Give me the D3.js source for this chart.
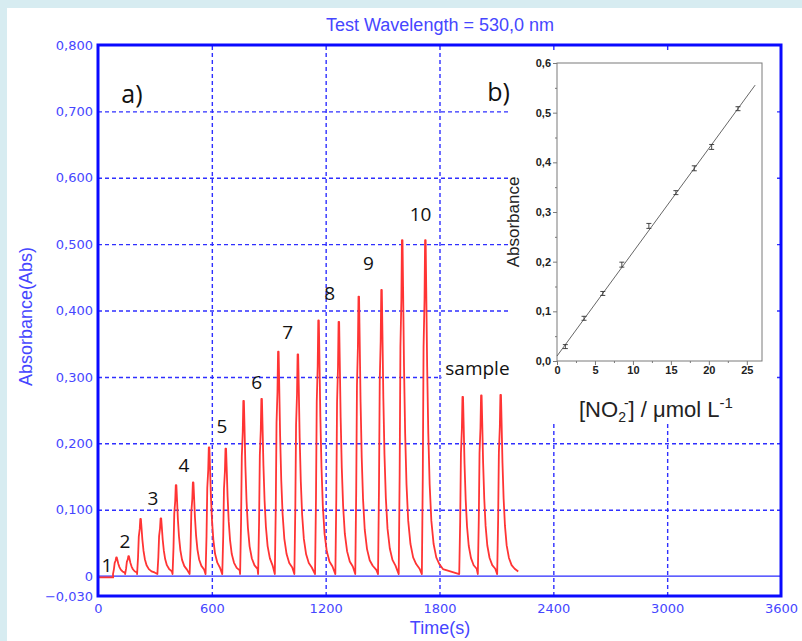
<!DOCTYPE html>
<html>
<head>
<meta charset="utf-8">
<script src="https://cdn.jsdelivr.net/npm/d3@7"></script>
<style>
	body { margin: 0; background: #ffffff; }
	svg { display: block; }
</style>
</head>
<body>
<div id="wrapper"></div>
<script>
// main trace: peak times (s) and heights (Abs)
const peakTimes = [98, 162, 225, 332, 412, 502, 586, 674, 768, 863, 951, 1054, 1163, 1270, 1375, 1495, 1604, 1726, 1923, 2021, 2123];
const peakHeights = [0.025, 0.027, 0.083, 0.084, 0.134, 0.138, 0.191, 0.189, 0.261, 0.264, 0.335, 0.331, 0.382, 0.380, 0.418, 0.428, 0.503, 0.503, 0.267, 0.269, 0.270];
// shape of one peak: seconds from apex, fraction of height
const profileDt = [-19, -14, -10, -5, -2, 1, 4, 9, 15, 22, 31, 43, 57, 73, 92];
const profileFrac = [0, 0.3, 0.68, 0.82, 1, 1, 0.86, 0.62, 0.42, 0.27, 0.16, 0.09, 0.05, 0.03, 0.015];
const startTimes = [0, 80];
const startValues = [-0.002, -0.002];
const peakBase = 0.003;
const traceEnd = 2216;

const xTicks = [0, 600, 1200, 1800, 2400, 3000, 3600];
const yTicks = [-0.03, 0, 0.1, 0.2, 0.3, 0.4, 0.5, 0.6, 0.7, 0.8];
const xGrid = [600, 1200, 1800, 2400, 3000];
const yGrid = [0.1, 0.2, 0.3, 0.4, 0.5, 0.6, 0.7];

const labelTexts = ["1", "2", "3", "4", "5", "6", "7", "8", "9", "10", "sample"];
const labelTimes = [47, 142, 289, 453, 653, 837, 1000, 1221, 1426, 1700, 2000];
const labelValues = [0.017, 0.053, 0.117, 0.168, 0.226, 0.292, 0.368, 0.426, 0.472, 0.546, 0.313];

// inset calibration
const concentrations = [1.1, 3.56, 6.03, 8.54, 12.1, 15.66, 18.08, 20.37, 23.84];
const absorbances = [0.029, 0.086, 0.136, 0.194, 0.272, 0.339, 0.388, 0.431, 0.508];
const absErrors = [0.004, 0.004, 0.004, 0.005, 0.005, 0.004, 0.005, 0.005, 0.004];
const fitIntercept = 0.01;
const fitSlope = 0.0209;
const fitRange = [0, 26.1];
const insetXTicks = [0, 5, 10, 15, 20, 25];
const insetXMinor = [2.5, 7.5, 12.5, 17.5, 22.5];
const insetYTicks = [0, 0.1, 0.2, 0.3, 0.4, 0.5, 0.6];
const insetYMinor = [0.05, 0.15, 0.25, 0.35, 0.45, 0.55];

const width = 802, height = 641;
const blue = "#0a0aff";
const textBlue = "#4646ff";
const gridBlue = "#2f2fff";
const arial = "'Liberation Sans', Arial, sans-serif";

const svg = d3.select("#wrapper").append("svg")
	.attr("width", width).attr("height", height);

// page background with light frame strip
svg.append("rect").attr("width", width).attr("height", height).attr("fill", "#d7ecf1");
svg.append("rect").attr("x", 7).attr("y", 8).attr("width", width - 7).attr("height", height - 8).attr("fill", "#ffffff");

const x = d3.scaleLinear().domain([0, 3600]).range([98, 781]);
const y = d3.scaleLinear().domain([-0.03, 0.8]).range([596, 45]);

// grid
const gridV = svg.append("g").attr("transform", `translate(0, ${y(-0.03)})`)
	.call(d3.axisBottom(x).tickValues(xGrid).tickSize(-(y(-0.03) - y(0.8))).tickFormat(""));
const gridH = svg.append("g").attr("transform", `translate(${x(0)}, 0)`)
	.call(d3.axisLeft(y).tickValues(yGrid).tickSize(-(x(3600) - x(0))).tickFormat(""));
for (const g of [gridV, gridH]) {
	g.select(".domain").remove();
	g.selectAll(".tick line")
		.attr("stroke", gridBlue)
		.attr("stroke-width", 1.4)
		.attr("stroke-dasharray", "4,3");
}

// zero line
svg.append("line")
	.attr("x1", x(0)).attr("x2", x(3600))
	.attr("y1", y(0)).attr("y2", y(0))
	.attr("stroke", "#2a2aff").attr("stroke-width", 1.3);

// build the trace from the peaks and the peak shape
const trace = startTimes.map((t, i) => [t, startValues[i]]);
peakTimes.forEach((tp, i) => {
	const next = peakTimes[i + 1];
	profileDt.forEach((dt, j) => {
		const t = tp + dt;
		if (next === undefined ? t <= traceEnd : t < next + profileDt[0]) {
			trace.push([t, peakBase + peakHeights[i] * profileFrac[j]]);
		}
	});
});

const line = d3.line().x((d) => x(d[0])).y((d) => y(d[1]));
svg.append("path")
	.attr("d", line(trace))
	.attr("fill", "none")
	.attr("stroke", "#ff3434")
	.attr("stroke-width", 1.8)
	.attr("stroke-linejoin", "round");

// inset white panel covers the grid
svg.append("rect").attr("x", 508).attr("y", 50).attr("width", 269).attr("height", 373).attr("fill", "#ffffff");

// white box behind the "sample" label
const sampleIdx = labelTexts.indexOf("sample");
svg.append("rect")
	.attr("x", x(1800) + 2).attr("y", y(labelValues[sampleIdx]) - 14)
	.attr("width", 68).attr("height", 26).attr("fill", "#ffffff");

// peak labels
const labels = svg.append("g")
	.attr("font-family", "'Open Sans', sans-serif")
	.attr("font-size", 19)
	.attr("fill", "#111111");
labelTexts.forEach((txt, i) => {
	labels.append("text")
		.attr("x", x(labelTimes[i])).attr("y", y(labelValues[i]))
		.attr("text-anchor", "middle")
		.attr("dominant-baseline", "central")
		.text(txt);
});
labels.append("text").attr("x", x(179)).attr("y", y(0.728))
	.attr("text-anchor", "middle").attr("dominant-baseline", "central")
	.attr("font-size", 25).text("a)");
labels.append("text").attr("x", x(2111)).attr("y", y(0.731))
	.attr("text-anchor", "middle").attr("dominant-baseline", "central")
	.attr("font-size", 25).text("b)");

// frame
svg.append("rect")
	.attr("x", x(0)).attr("y", y(0.8))
	.attr("width", x(3600) - x(0)).attr("height", y(-0.03) - y(0.8))
	.attr("fill", "none").attr("stroke", blue).attr("stroke-width", 3);

// tick labels
const fmt = (d) => (d === 0 ? "0" : d3.format(".3f")(d).replace(".", ","));
const yAxis = svg.append("g").attr("transform", `translate(${x(0) - 2}, 0)`)
	.call(d3.axisLeft(y).tickValues(yTicks).tickSize(0).tickPadding(3).tickFormat(fmt));
const xAxis = svg.append("g").attr("transform", `translate(0, ${y(-0.03) + 2})`)
	.call(d3.axisBottom(x).tickValues(xTicks).tickSize(0).tickPadding(6).tickFormat((d) => d));
for (const g of [yAxis, xAxis]) {
	g.select(".domain").remove();
	g.selectAll("text")
		.attr("font-family", "'DejaVu Sans', sans-serif")
		.attr("font-size", 13)
		.attr("fill", textBlue);
}

// titles
svg.append("text").attr("x", 440).attr("y", 31)
	.attr("text-anchor", "middle").attr("font-family", arial).attr("font-size", 18)
	.attr("fill", textBlue).text("Test Wavelength = 530,0 nm");
svg.append("text").attr("x", 440).attr("y", 634)
	.attr("text-anchor", "middle").attr("font-family", arial).attr("font-size", 18)
	.attr("fill", textBlue).text("Time(s)");
svg.append("text")
	.attr("transform", `translate(32, ${(y(0.8) + y(-0.03)) / 2 - 4}) rotate(-90)`)
	.attr("text-anchor", "middle").attr("font-family", arial).attr("font-size", 18)
	.attr("fill", textBlue).text("Absorbance(Abs)");

// ---------- inset ----------
const ix = d3.scaleLinear().domain([0, 27]).range([557, 762]);
const iy = d3.scaleLinear().domain([0, 0.6]).range([361, 63]);
const inset = svg.append("g");
const gray = "#7a7a7a";

inset.append("rect")
	.attr("x", ix(0)).attr("y", iy(0.6))
	.attr("width", ix(27) - ix(0)).attr("height", iy(0) - iy(0.6))
	.attr("fill", "none").attr("stroke", gray).attr("stroke-width", 1);

const ifmt = (d) => d3.format(".1f")(d).replace(".", ",");
const iyAxis = inset.append("g").attr("transform", `translate(${ix(0)}, 0)`)
	.call(d3.axisLeft(iy).tickValues(insetYTicks).tickSize(4).tickPadding(2).tickFormat(ifmt));
const iyMinor = inset.append("g").attr("transform", `translate(${ix(0)}, 0)`)
	.call(d3.axisLeft(iy).tickValues(insetYMinor).tickSize(2).tickFormat(""));
const ixAxis = inset.append("g").attr("transform", `translate(0, ${iy(0)})`)
	.call(d3.axisBottom(ix).tickValues(insetXTicks).tickSize(4).tickPadding(1).tickFormat((d) => d));
const ixMinor = inset.append("g").attr("transform", `translate(0, ${iy(0)})`)
	.call(d3.axisBottom(ix).tickValues(insetXMinor).tickSize(2).tickFormat(""));
for (const g of [iyAxis, iyMinor, ixAxis, ixMinor]) {
	g.select(".domain").remove();
	g.selectAll("line").attr("stroke", gray);
	g.selectAll("text")
		.attr("font-family", arial)
		.attr("font-weight", "bold")
		.attr("font-size", 11)
		.attr("fill", "#222222");
}

// fit line
inset.append("line")
	.attr("x1", ix(fitRange[0])).attr("y1", iy(fitIntercept + fitSlope * fitRange[0]))
	.attr("x2", ix(fitRange[1])).attr("y2", iy(fitIntercept + fitSlope * fitRange[1]))
	.attr("stroke", "#555555").attr("stroke-width", 0.9);

// error bars
concentrations.forEach((c, i) => {
	const cx = ix(c);
	const top = iy(absorbances[i] + absErrors[i]);
	const bot = iy(absorbances[i] - absErrors[i]);
	inset.append("line").attr("x1", cx).attr("x2", cx).attr("y1", top).attr("y2", bot)
		.attr("stroke", "#333333").attr("stroke-width", 0.9);
	for (const yy of [top, bot]) {
		inset.append("line").attr("x1", cx - 2.5).attr("x2", cx + 2.5).attr("y1", yy).attr("y2", yy)
			.attr("stroke", "#333333").attr("stroke-width", 0.9);
	}
});

// inset axis titles
inset.append("text")
	.attr("transform", `translate(519, 222) rotate(-90)`)
	.attr("text-anchor", "middle").attr("font-family", arial).attr("font-size", 17)
	.attr("fill", "#222222").text("Absorbance");

const xl = inset.append("text")
	.attr("x", 579).attr("y", 417)
	.attr("font-family", arial).attr("font-size", 22).attr("fill", "#222222");
xl.append("tspan").text("[NO");
xl.append("tspan").attr("dy", 5).attr("font-size", 14).text("2");
xl.append("tspan").attr("dy", -14).attr("dx", -2).attr("font-size", 14).text("-");
xl.append("tspan").attr("dy", 9).text("] / \u03bcmol L");
xl.append("tspan").attr("dy", -9).attr("font-size", 15).text("-1");
</script>
</body>
</html>
